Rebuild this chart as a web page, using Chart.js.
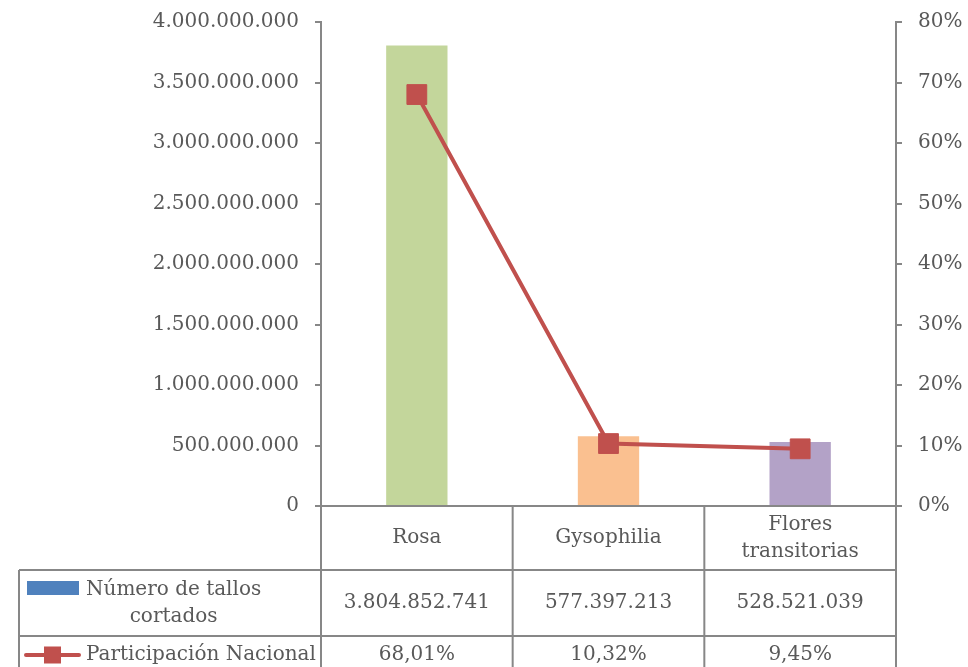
<!DOCTYPE html>
<html><head><meta charset="utf-8">
<script src="https://cdn.jsdelivr.net/npm/chart.js@4.4.1/dist/chart.umd.min.js"></script>
<style>html,body{margin:0;padding:0;background:#fff}canvas{display:block}</style>
</head><body>
<canvas id="c" width="968" height="667"></canvas>
<script>
// ---- data ----
const categories = [['Rosa'], ['Gysophilia'], ['Flores', 'transitorias']];
const tallos = [3804852741, 577397213, 528521039];
const participacion = [68.01, 10.32, 9.45];
const seriesLabels = [['Número de tallos', 'cortados'], ['Participación Nacional']];

// ---- styles ----
const barColors = ['#C3D69B', '#FAC090', '#B3A2C7'];
const legendBarColor = '#4F81BD';
const lineColor = '#C0504D';
const GRID = '#878787';
const TXT = '#595959';
const FAMILY = '"DejaVu Serif", "Liberation Serif", serif';
const FSIZE = 20;

const fmtInt = n => String(Math.round(n)).replace(/\B(?=(\d{3})+(?!\d))/g, '.');
const fmtPct = v => v.toFixed(2).replace('.', ',') + '%';

const tablePlugin = {
  id: 'dataTable',
  afterDraw(chart) {
    const { ctx, chartArea: a, scales: { x } } = chart;
    const top = a.bottom;
    const r1 = top + 64, r2 = r1 + 66, r3 = r2 + 38;
    const tableLeft = 19;
    const n = categories.length;
    const bounds = [];
    for (let i = 0; i <= n; i++) {
      if (i === 0) bounds.push(a.left);
      else if (i === n) bounds.push(a.right);
      else bounds.push((x.getPixelForValue(i - 1) + x.getPixelForValue(i)) / 2);
    }
    ctx.save();
    ctx.strokeStyle = GRID;
    ctx.lineWidth = 2;
    ctx.beginPath();
    ctx.moveTo(a.left, top); ctx.lineTo(a.right, top);
    bounds.forEach(b => { ctx.moveTo(b, top); ctx.lineTo(b, r3); });
    ctx.moveTo(tableLeft, r1); ctx.lineTo(a.right, r1);
    ctx.moveTo(tableLeft, r2); ctx.lineTo(a.right, r2);
    ctx.moveTo(tableLeft, r3); ctx.lineTo(a.right, r3);
    ctx.moveTo(tableLeft, r1); ctx.lineTo(tableLeft, r3);
    ctx.stroke();

    ctx.fillStyle = TXT;
    ctx.font = FSIZE + 'px ' + FAMILY;
    ctx.textAlign = 'center';
    ctx.textBaseline = 'middle';
    const lh = 27;
    const drawLines = (lines, cx, cy) => {
      const y0 = cy - (lines.length - 1) * lh / 2;
      lines.forEach((t, k) => ctx.fillText(t, cx, y0 + k * lh));
    };
    for (let i = 0; i < n; i++) {
      const cx = (bounds[i] + bounds[i + 1]) / 2;
      drawLines(categories[i], cx, (top + r1) / 2);
      drawLines([fmtInt(tallos[i])], cx, (r1 + r2) / 2);
      drawLines([fmtPct(participacion[i])], cx, (r2 + r3) / 2);
    }

    // legend keys in table
    const textLeft = tableLeft + 67;
    const c2 = (r1 + r2) / 2;
    ctx.fillStyle = legendBarColor;
    ctx.fillRect(tableLeft + 8, c2 - 22, 52, 14);
    ctx.fillStyle = TXT;
    const w1 = ctx.measureText(seriesLabels[0][0]).width;
    drawLines(seriesLabels[0], textLeft + w1 / 2, c2 + 0.5);

    const c3 = (r2 + r3) / 2;
    ctx.strokeStyle = lineColor;
    ctx.lineWidth = 4;
    ctx.lineCap = 'round';
    ctx.beginPath();
    ctx.moveTo(tableLeft + 7, c3); ctx.lineTo(tableLeft + 60, c3);
    ctx.stroke();
    ctx.fillStyle = lineColor;
    ctx.fillRect(tableLeft + 25, c3 - 8.5, 17, 17);
    ctx.fillStyle = TXT;
    ctx.textAlign = 'left';
    ctx.fillText(seriesLabels[1][0], textLeft, c3);
    ctx.restore();
  }
};

const tickFont = { family: FAMILY, size: FSIZE };

new Chart(document.getElementById('c'), {
  data: {
    labels: categories.map(c => c.join(' ')),
    datasets: [
      {
        type: 'line',
        label: seriesLabels[1].join(' '),
        data: participacion,
        yAxisID: 'y1',
        borderColor: lineColor,
        borderWidth: 4,
        pointStyle: 'rect',
        pointRadius: 14,
        pointBackgroundColor: lineColor,
        pointBorderColor: lineColor,
        pointBorderWidth: 1,
        tension: 0,
        order: 0
      },
      {
        type: 'bar',
        label: seriesLabels[0].join(' '),
        data: tallos,
        yAxisID: 'y',
        backgroundColor: barColors,
        categoryPercentage: 1,
        barPercentage: 0.32,
        order: 1
      }
    ]
  },
  options: {
    responsive: false,
    animation: false,
    layout: { padding: { top: 22, left: 0, right: 0, bottom: 0 } },
    plugins: { legend: { display: false }, tooltip: { enabled: false } },
    scales: {
      x: {
        type: 'category',
        offset: true,
        grid: { display: false },
        border: { display: false },
        ticks: { display: false },
        afterFit(s) { s.height = 161; }
      },
      y: {
        position: 'left',
        min: 0, max: 4000000000,
        ticks: { stepSize: 500000000, padding: 16, color: TXT, font: tickFont, callback: v => fmtInt(v) },
        grid: { drawOnChartArea: false, drawTicks: true, tickLength: 6, color: GRID, lineWidth: 2 },
        border: { display: true, color: GRID, width: 2 },
        afterFit(s) { s.width = 321; s.paddingTop = 0; s.paddingBottom = 0; }
      },
      y1: {
        position: 'right',
        min: 0, max: 80,
        ticks: { stepSize: 10, padding: 16, color: TXT, font: tickFont, callback: v => Math.round(v) + '%' },
        grid: { drawOnChartArea: false, drawTicks: true, tickLength: 6, color: GRID, lineWidth: 2 },
        border: { display: true, color: GRID, width: 2 },
        afterFit(s) { s.width = 72; s.paddingTop = 0; s.paddingBottom = 0; }
      }
    }
  },
  plugins: [tablePlugin]
});
</script>
</body></html>
